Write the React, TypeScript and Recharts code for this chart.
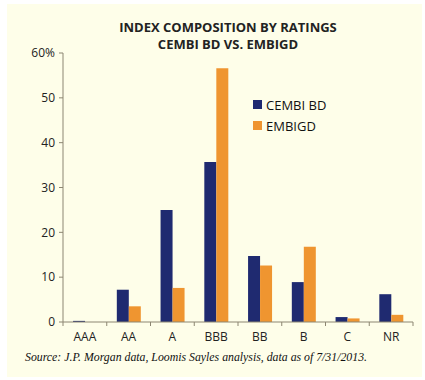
import React from "react";
import { BarChart, Bar, XAxis, YAxis } from "recharts";

const categories = ["AAA", "AA", "A", "BBB", "BB", "B", "C", "NR"];
const cembiBD = [0.25, 7.2, 25, 35.7, 14.7, 8.9, 1.1, 6.2];
const embigd = [0, 3.5, 7.6, 56.6, 12.6, 16.8, 0.8, 1.6];
const yTicks = [0, 10, 20, 30, 40, 50, 60];

const seriesNames = ["CEMBI BD", "EMBIGD"];
const BLUE = "#1f2a70";
const ORANGE = "#ef9530";
const seriesColors = [BLUE, ORANGE];
const AXIS = "#8c8672";

const data = categories.map((c, i) => ({ cat: c, cembi: cembiBD[i], embigd: embigd[i] }));

const XTick = (props: any) => {
  const { x, y, payload, index } = props;
  const half = payload && payload.offset ? payload.offset : 21.875;
  return (
    <g>
      <line x1={x - half} x2={x - half} y1={y - 8} y2={y - 4} stroke={AXIS} />
      {index === categories.length - 1 && (
        <line x1={x + half} x2={x + half} y1={y - 8} y2={y - 4} stroke={AXIS} />
      )}
      <text x={x} y={y + 11} textAnchor="middle" fontSize={12} fill="#222" fontFamily="'Open Sans', sans-serif">
        {payload.value}
      </text>
    </g>
  );
};

export default function App() {
  return (
    <div style={{ position: "fixed", left: 0, top: 0, width: 425, height: 380, background: "#ffffff" }}>
      <div style={{ position: "absolute", left: 7, top: 4, width: 415, height: 373, background: "#fefee9" }} />
      <div
        style={{
          position: "absolute",
          left: 0,
          width: 456,
          top: 19,
          textAlign: "center",
          fontFamily: "'Open Sans', sans-serif",
          fontWeight: 700,
          fontSize: 13,
          lineHeight: "17px",
          color: "#222",
        }}
      >
        <div>INDEX COMPOSITION BY RATINGS</div>
        <div>CEMBI BD VS. EMBIGD</div>
      </div>
      <div style={{ position: "absolute", left: 0, top: 0 }}>
        <BarChart
          width={425}
          height={380}
          data={data}
          margin={{ top: 53, right: 12, bottom: 28, left: 0 }}
          barCategoryGap="23%"
          barGap={0}
        >
          <YAxis
            width={63}
            domain={[0, 60]}
            ticks={yTicks}
            interval={0}
            tickSize={4}
            tickMargin={4}
            axisLine={{ stroke: AXIS }}
            tickLine={{ stroke: AXIS }}
            tick={{ fontSize: 12, fill: "#222", fontFamily: "'Open Sans', sans-serif" }}
            tickFormatter={(v: number) => (v === 60 ? "60%" : String(v))}
          />
          <XAxis
            dataKey="cat"
            interval={0}
            tickLine={false}
            axisLine={{ stroke: AXIS }}
            tick={<XTick />}
            height={30}
          />
          <Bar dataKey="cembi" name={seriesNames[0]} fill={BLUE} isAnimationActive={false} />
          <Bar dataKey="embigd" name={seriesNames[1]} fill={ORANGE} isAnimationActive={false} />
        </BarChart>
      </div>
      <div style={{ position: "absolute", left: 253, top: 94 }}>
        {seriesNames.map((n, i) => (
          <div key={n} style={{ display: "flex", alignItems: "center", height: 21 }}>
            <span style={{ display: "inline-block", width: 9, height: 9, background: seriesColors[i], marginRight: 4 }} />
            <span style={{ fontSize: 13, color: "#111", fontFamily: "'Open Sans', sans-serif" }}>{n}</span>
          </div>
        ))}
      </div>
      <div
        style={{
          position: "absolute",
          left: 25,
          top: 350,
          fontFamily: "'Liberation Serif', serif",
          fontStyle: "italic",
          fontSize: 11.8,
          color: "#111",
          whiteSpace: "nowrap",
        }}
      >
        Source: J.P. Morgan data, Loomis Sayles analysis, data as of 7/31/2013.
      </div>
    </div>
  );
}
